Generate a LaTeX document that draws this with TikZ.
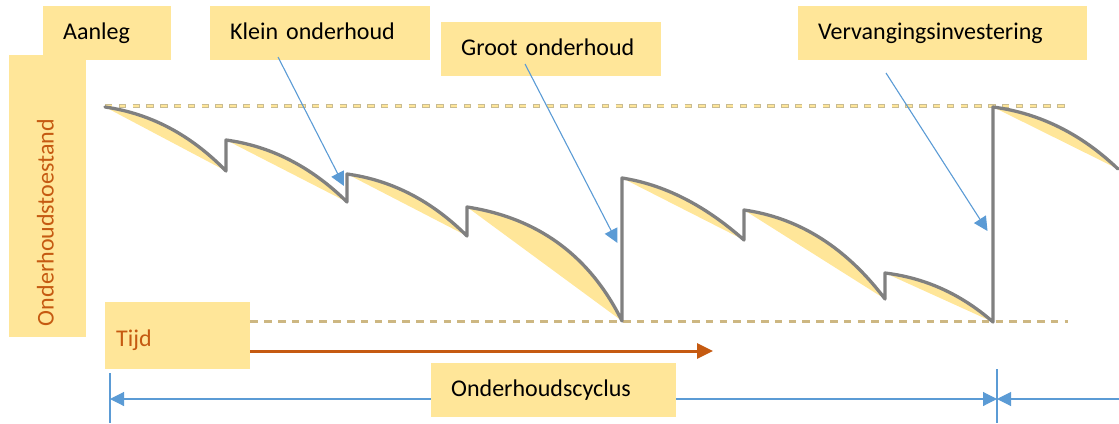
\documentclass[tikz,border=0pt]{standalone}
\usepackage{fontspec}
\setmainfont{Carlito}
\usetikzlibrary{arrows.meta,calc,backgrounds}
\definecolor{boxyellow}{HTML}{FFE699}
\definecolor{orangeT}{HTML}{C55A11}
\definecolor{curvegray}{HTML}{808080}
\definecolor{blueL}{HTML}{5B9BD5}
\definecolor{dashedge}{HTML}{C9BC92}
\definecolor{dashtan}{HTML}{CDB782}
\newcommand\mkseg[7]{%
  \pgfmathsetmacro\msAx{#2+2/3*#6*(#4-#2)}%
  \pgfmathsetmacro\msAy{#3+2/3*#7*(#5-#3)}%
  \pgfmathsetmacro\msBx{#4-2/3*(1-#6)*(#4-#2)}%
  \pgfmathsetmacro\msBy{#5-2/3*(1-#7)*(#5-#3)}%
  \coordinate (#1s) at (#2,#3);
  \coordinate (#1e) at (#4,#5);
  \coordinate (#1a) at (\msAx,\msAy);
  \coordinate (#1b) at (\msBx,\msBy);
}
\tikzset{
  box/.style={fill=boxyellow, anchor=north west, inner ysep=0pt, inner xsep=20pt,
    align=left, font=\fontsize{24}{28}\selectfont, text height=17pt, text depth=5pt},
  lensfill/.style={fill=boxyellow},
  wear/.style={draw=curvegray, line width=3.3pt, line join=round, line cap=round},
  pointer/.style={draw=blueL, line width=1.1pt, -{Triangle[length=14pt,width=14pt]}},
  dimline/.style={draw=blueL, line width=1.1pt},
  toparrow/.style={draw=orangeT, line width=3pt, -{Triangle[length=16pt,width=15pt]}},
}
\begin{document}
\begin{tikzpicture}[x=1pt,y=-1pt]
\useasboundingbox (0,0) rectangle (1119,423);

% curve segments: name, start, end, shape
\mkseg{segA}{105}{107}{226}{171}{0.565}{0.153}
\mkseg{segB}{226}{140}{347}{202}{0.56}{0.15}
\mkseg{segC}{347}{174}{467}{236}{0.56}{0.15}
\mkseg{segD}{467}{207}{622}{321}{0.69}{0.145}
\mkseg{segE}{622}{178}{744}{240}{0.52}{0.16}
\mkseg{segF}{744}{210}{885}{299}{0.587}{0.133}
\mkseg{segG}{885}{273}{993}{322}{0.56}{0.15}
\mkseg{segH}{993}{107}{1118}{169}{0.56}{0.15}

\coordinate (topEnd) at (1066,106);
\coordinate (topStart) at (105,106);
\coordinate (botEnd) at (1068,321);
\coordinate (tijdEnd) at (713,351);
\coordinate (cycL) at (110,399);
\coordinate (cycR) at (997,399);
\coordinate (cycFar) at (1119,399);
\coordinate (tickLt) at (110,373);
\coordinate (tickLb) at (110,423);
\coordinate (tickRt) at (997,369);
\coordinate (tickRb) at (997,423);

% boxes
\node[box, text width=88pt, minimum height=54pt] (aanleg) at (43,6) {Aanleg};
\node[box, text width=180pt, minimum height=54pt] (klein) at (210,6) {Klein onderhoud};
\node[box, text width=180pt, minimum height=54pt] (groot) at (441,22) {Groot onderhoud};
\node[box, text width=249pt, minimum height=54pt] (verv) at (798,6) {Vervangingsinvestering};
\node[box, text width=205pt, minimum height=54pt] (cyclus) at (431,363) {Onderhoudscyclus};
\node[box, inner xsep=11pt, text width=123pt, minimum height=67pt, text height=27pt,
      text=orangeT] (tijd) at (105,302) {Tijd};
\node[box, anchor=center, rotate=90, inner xsep=11pt, text width=260pt,
      minimum height=77pt, text=orangeT] (toestand) at (47.5,196) {Onderhoudstoestand};

% reference lines and axes, behind the boxes
\begin{pgfonlayer}{background}
\draw[draw=dashedge, line width=3.2pt, dash pattern=on 7.3pt off 6.5pt] (topStart) -- (topEnd);
\draw[draw=boxyellow, line width=1.6pt, dash pattern=on 5.7pt off 8.1pt, dash phase=13pt] (topStart) -- (topEnd);
\draw[draw=dashtan, line width=3pt, dash pattern=on 7.5pt off 6.3pt] (tijd.east |- botEnd) -- (botEnd);
\draw[toparrow] (tijd.east |- tijdEnd) -- (tijdEnd);
\draw[dimline, {Triangle[length=14pt,width=14pt]}-{Triangle[length=14pt,width=14pt]}] (cycL) -- (cycR);
\draw[dimline, -{Triangle[length=14pt,width=14pt]}] (cycFar) -- (cycR);
\draw[dimline] (tickLt) -- (tickLb);
\draw[dimline] (tickRt) -- (tickRb);
\end{pgfonlayer}

% lens fills
\foreach \s in {segA,segB,segC,segD,segE,segF,segG,segH}{
  \fill[lensfill] (\s s) .. controls (\s a) and (\s b) .. (\s e) -- cycle;
}
% wear curve
\draw[wear] (segAs) .. controls (segAa) and (segAb) .. (segAe)
  -- (segBs) .. controls (segBa) and (segBb) .. (segBe)
  -- (segCs) .. controls (segCa) and (segCb) .. (segCe)
  -- (segDs) .. controls (segDa) and (segDb) .. (segDe)
  -- (segEs) .. controls (segEa) and (segEb) .. (segEe)
  -- (segFs) .. controls (segFa) and (segFb) .. (segFe)
  -- (segGs) .. controls (segGa) and (segGb) .. (segGe)
  -- (segHs) .. controls (segHa) and (segHb) .. (segHe);

% pointers
\coordinate (kleinP) at (278,57);
\coordinate (kleinT) at (344,186);
\coordinate (grootP) at (525,64);
\coordinate (grootT) at (617.5,243);
\coordinate (vervP) at (886,73);
\coordinate (vervT) at (987.5,231);
\draw[pointer] (kleinP) -- (kleinT);
\draw[pointer] (grootP) -- (grootT);
\draw[pointer] (vervP) -- (vervT);
\end{tikzpicture}
\end{document}
